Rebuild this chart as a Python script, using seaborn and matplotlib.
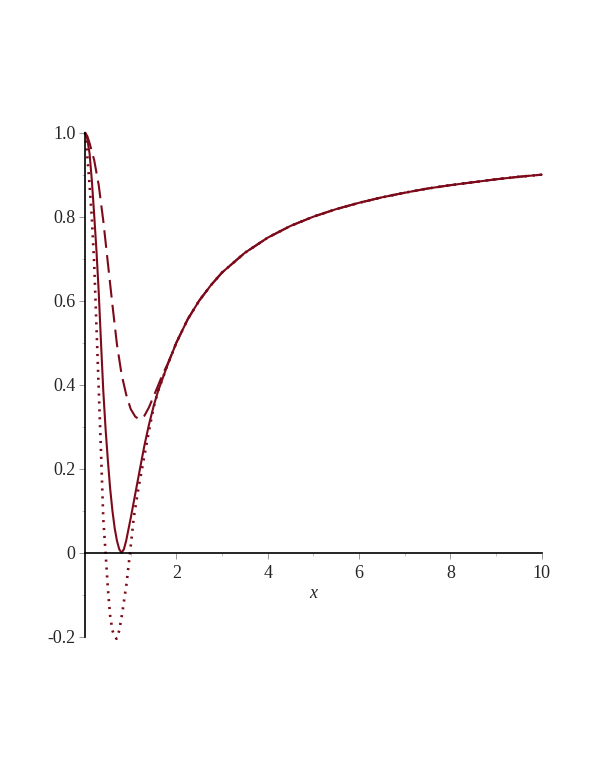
import matplotlib
matplotlib.use('Agg')
import matplotlib.pyplot as plt
import seaborn as sns
import pandas as pd
from matplotlib.ticker import MultipleLocator

# values
solid_x = [0.00, 0.05, 0.10, 0.15, 0.20, 0.25, 0.30, 0.35, 0.40, 0.45,
           0.50, 0.55, 0.60, 0.65, 0.70, 0.75, 0.80, 0.85, 0.90, 0.95,
           1.00, 1.10, 1.20, 1.30, 1.40, 1.50, 1.60, 1.70, 1.80, 2.00,
           2.25, 2.50, 2.75, 3.00, 3.50, 4.00, 4.50, 5.00, 5.50, 6.00,
           6.50, 7.00, 7.50, 8.00, 8.50, 9.00, 9.50, 10.0]
solid_y = [1.000, 0.985, 0.950, 0.885, 0.805, 0.720, 0.620, 0.500, 0.385, 0.295,
           0.220, 0.153, 0.100, 0.058, 0.028, 0.008, 0.000, 0.008, 0.028, 0.055,
           0.082, 0.140, 0.198, 0.255, 0.305, 0.348, 0.385, 0.415, 0.445, 0.500,
           0.556, 0.600, 0.636, 0.667, 0.714, 0.750, 0.778, 0.800, 0.818, 0.833,
           0.846, 0.857, 0.867, 0.875, 0.882, 0.889, 0.895, 0.900]

dash_x = [0.00, 0.05, 0.10, 0.15, 0.20, 0.30, 0.40, 0.50, 0.60, 0.70,
          0.80, 0.90, 1.00, 1.10, 1.18, 1.30, 1.40, 1.50, 1.60, 1.70,
          1.80, 2.00, 2.25, 2.50, 2.75, 3.00, 3.50, 4.00, 4.50, 5.00,
          5.50, 6.00, 6.50, 7.00, 7.50, 8.00, 8.50, 9.00, 9.50, 10.0]
dash_y = [1.000, 0.992, 0.975, 0.955, 0.935, 0.875, 0.790, 0.690, 0.590, 0.495,
          0.425, 0.377, 0.342, 0.324, 0.318, 0.326, 0.346, 0.372, 0.398, 0.425,
          0.447, 0.500, 0.556, 0.600, 0.636, 0.667, 0.714, 0.750, 0.778, 0.800,
          0.818, 0.833, 0.846, 0.857, 0.867, 0.875, 0.882, 0.889, 0.895, 0.900]

dot_x = [0.00, 0.05, 0.10, 0.15, 0.20, 0.25, 0.30, 0.35, 0.40, 0.45,
         0.50, 0.55, 0.60, 0.65, 0.69, 0.75, 0.82, 0.91, 1.00, 1.07,
         1.18, 1.29, 1.40, 1.50, 1.60, 1.70, 1.80, 2.00, 2.25, 2.50,
         2.75, 3.00, 3.50, 4.00, 4.50, 5.00, 5.50, 6.00, 6.50, 7.00,
         7.50, 8.00, 8.50, 9.00, 9.50, 10.0]
dot_y = [1.000, 0.945, 0.875, 0.795, 0.690, 0.540, 0.390, 0.240, 0.080, 0.000,
         -0.085, -0.150, -0.185, -0.200, -0.205, -0.185, -0.140, -0.073, 0.015, 0.086,
         0.160, 0.225, 0.290, 0.345, 0.385, 0.415, 0.445, 0.500, 0.556, 0.600,
         0.636, 0.667, 0.714, 0.750, 0.778, 0.800, 0.818, 0.833, 0.846, 0.857,
         0.867, 0.875, 0.882, 0.889, 0.895, 0.900]

x_ticks = [2, 4, 6, 8, 10]
y_ticks = [-0.2, 0, 0.2, 0.4, 0.6, 0.8, 1.0]
y_tick_labels = ['-0.2', '0', '0.2', '0.4', '0.6', '0.8', '1.0']

color = '#7c0a1a'

sns.set_style('white')
plt.rcParams['font.family'] = ['Liberation Serif', 'DejaVu Serif']

fig = plt.figure(figsize=(5.95, 7.7), dpi=100)
ax = fig.add_axes([0.1429, 0.1731, 0.7675, 0.6546])

df_solid = pd.DataFrame({'x': solid_x, 'y': solid_y})
df_dash = pd.DataFrame({'x': dash_x, 'y': dash_y})
df_dot = pd.DataFrame({'x': dot_x, 'y': dot_y})

sns.lineplot(data=df_dash, x='x', y='y', ax=ax, color=color, lw=1.5,
             linestyle=(0, (8.5, 3.5)), sort=False, clip_on=False)
sns.lineplot(data=df_dot, x='x', y='y', ax=ax, color=color, lw=1.9,
             linestyle=(0, (0.8, 2.2)), sort=False, clip_on=False)
sns.lineplot(data=df_solid, x='x', y='y', ax=ax, color=color, lw=1.5,
             sort=False, clip_on=False)

ax.set_xlim(0, 10)
ax.set_ylim(-0.2, 1.0)

# Maple style axes through the origin
ax.spines['left'].set_position(('data', 0))
ax.spines['bottom'].set_position(('data', 0))
ax.spines['top'].set_visible(False)
ax.spines['right'].set_visible(False)
for s in ['left', 'bottom']:
    ax.spines[s].set_linewidth(1.2)
    ax.spines[s].set_color('black')

ax.set_xticks(x_ticks)
ax.set_xticklabels([str(t) for t in x_ticks])
ax.set_yticks(y_ticks)
ax.set_yticklabels(y_tick_labels)
ax.xaxis.set_minor_locator(MultipleLocator(1))
ax.yaxis.set_minor_locator(MultipleLocator(0.1))
ax.tick_params(axis='x', which='both', bottom=True)
ax.tick_params(axis='y', which='both', left=True)
ax.tick_params(axis='both', which='major', direction='out', length=4,
               width=0.6, color='#888888', labelsize=13)
ax.tick_params(axis='x', which='major', pad=5)
ax.tick_params(axis='y', which='major', pad=3)
ax.tick_params(axis='both', which='minor', direction='out', length=2.5,
               width=0.5, color='#aaaaaa')

ax.set_xlabel('')
ax.set_ylabel('')
ax.text(5.0, -0.096, 'x', style='italic', fontsize=13, ha='center', va='center')

fig.savefig('out.png', dpi=100)
